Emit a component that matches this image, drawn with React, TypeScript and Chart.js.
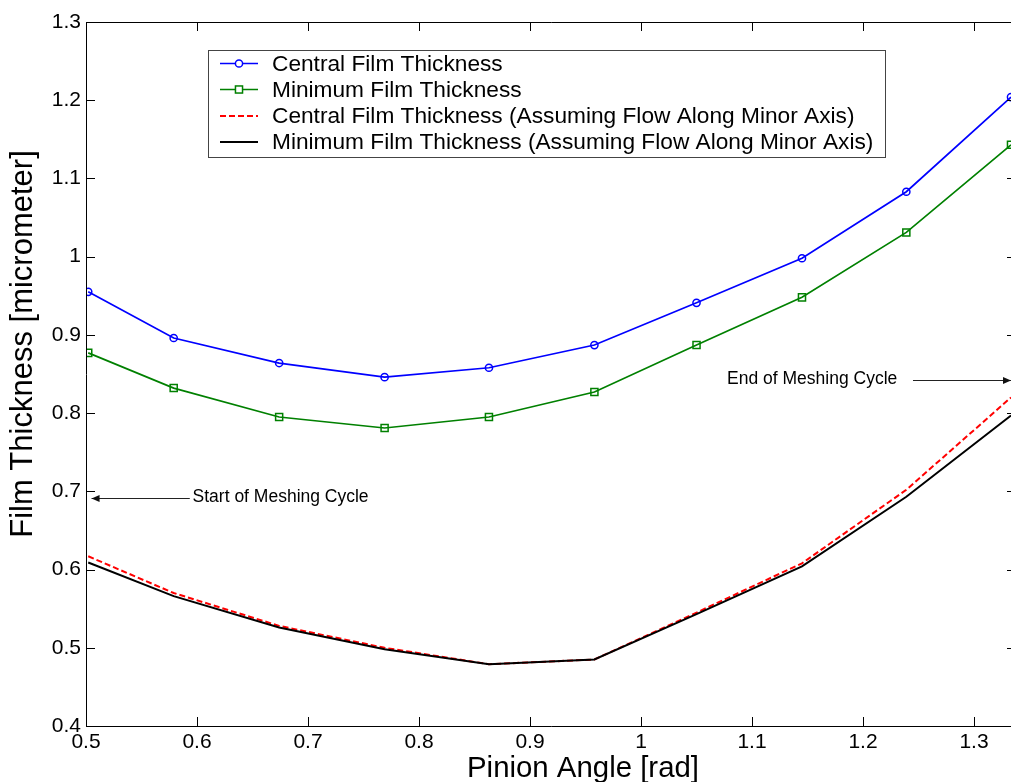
import React, { useEffect, useRef } from "react";
import { Chart, registerables } from "chart.js";

Chart.register(...registerables);

// ---- data ----
const pinionAngle = [0.502, 0.579, 0.674, 0.769, 0.863, 0.958, 1.05, 1.145, 1.239, 1.3333];
const centralFilm = [0.955, 0.896, 0.864, 0.846, 0.858, 0.887, 0.941, 0.998, 1.083, 1.204];
const minimumFilm = [0.877, 0.832, 0.795, 0.781, 0.795, 0.827, 0.887, 0.948, 1.031, 1.143];
const centralMinorAxis = [0.617, 0.57, 0.528, 0.5, 0.479, 0.485, 0.545, 0.608, 0.702, 0.82];
const minimumMinorAxis = [0.609, 0.566, 0.526, 0.498, 0.479, 0.485, 0.543, 0.604, 0.693, 0.797];

const seriesLabels = [
  "Central Film Thickness",
  "Minimum Film Thickness",
  "Central Film Thickness (Assuming Flow Along Minor Axis)",
  "Minimum Film Thickness (Assuming Flow Along Minor Axis)",
];

const xTickValues = [0.5, 0.6, 0.7, 0.8, 0.9, 1.0, 1.1, 1.2, 1.3];
const yTickValues = [0.4, 0.5, 0.6, 0.7, 0.8, 0.9, 1.0, 1.1, 1.2, 1.3];
const xRange = [0.5, 1.3378];
const yRange = [0.4, 1.3];

const xTitle = "Pinion Angle [rad]";
const yTitle = "Film Thickness [micrometer]";

// annotations in data coordinates
const startNote = { text: "Start of Meshing Cycle", tipX: 0.505, tailX: 0.5935, textX: 0.596, y: 0.6915 };
const endNote = { text: "End of Meshing Cycle", tipX: 1.3333, tailX: 1.245, textX: 1.0775, y: 0.8425 };

const FONT = "'Liberation Sans', Arial, Helvetica, sans-serif";
const VIEW_W = 1011;
const CANVAS_W = 1017;
const CANVAS_H = 782;

const fmt = (v: number) => String(Number(Number(v).toFixed(1)));

const framePlugin = {
  id: "matlabFrame",
  afterDraw(chart: any) {
    const { ctx, chartArea } = chart;
    const { left, right, top, bottom } = chartArea;
    const xs = chart.scales.x;
    const ys = chart.scales.y;
    ctx.save();
    // frame
    ctx.strokeStyle = "#000";
    ctx.lineWidth = 1;
    ctx.beginPath();
    ctx.moveTo(right, top + 0.5);
    ctx.lineTo(left + 0.5, top + 0.5);
    ctx.lineTo(left + 0.5, bottom + 0.5);
    ctx.lineTo(right, bottom + 0.5);
    ctx.lineTo(right - 0.5, top + 0.5);
    ctx.stroke();
    // inward ticks
    const tl = 9;
    ctx.beginPath();
    xTickValues.forEach((v) => {
      const px = Math.round(xs.getPixelForValue(v)) + 0.5;
      ctx.moveTo(px, bottom);
      ctx.lineTo(px, bottom - tl);
      ctx.moveTo(px, top);
      ctx.lineTo(px, top + tl);
    });
    yTickValues.forEach((v) => {
      const py = Math.round(ys.getPixelForValue(v)) + 0.5;
      ctx.moveTo(left, py);
      ctx.lineTo(left + tl, py);
      ctx.moveTo(right, py);
      ctx.lineTo(right - tl, py);
    });
    ctx.stroke();

    // axis titles
    ctx.fillStyle = "#000";
    ctx.textAlign = "center";
    ctx.textBaseline = "alphabetic";
    ctx.font = `29.4px ${FONT}`;
    ctx.fillText(xTitle, 583, 777);
    ctx.save();
    ctx.translate(32, 344);
    ctx.rotate(-Math.PI / 2);
    ctx.font = `31px ${FONT}`;
    ctx.fillText(yTitle, 0, 0);
    ctx.restore();

    // legend
    const lx = 208.5, ly = 50.5, lw = 677, lh = 107;
    ctx.fillStyle = "#fff";
    ctx.fillRect(lx, ly, lw, lh);
    ctx.strokeStyle = "#444";
    ctx.lineWidth = 1;
    ctx.strokeRect(lx, ly, lw, lh);
    const rows = [63.5, 89.5, 116, 142];
    chart.data.datasets.forEach((ds: any, i: number) => {
      const y = rows[i];
      ctx.save();
      ctx.strokeStyle = ds.borderColor;
      ctx.lineWidth = ds.borderWidth;
      ctx.setLineDash(ds.borderDash || []);
      ctx.beginPath();
      ctx.moveTo(220, y);
      ctx.lineTo(258, y);
      ctx.stroke();
      ctx.setLineDash([]);
      if (ds.pointRadius > 0) {
        ctx.lineWidth = ds.pointBorderWidth;
        ctx.fillStyle = "#fff";
        if (ds.pointStyle === "rect") {
          const s = ds.pointRadius * Math.SQRT1_2;
          ctx.fillRect(239 - s, y - s, 2 * s, 2 * s);
          ctx.strokeRect(239 - s, y - s, 2 * s, 2 * s);
        } else {
          ctx.beginPath();
          ctx.arc(239, y, ds.pointRadius, 0, Math.PI * 2);
          ctx.fill();
          ctx.stroke();
        }
      }
      ctx.fillStyle = "#000";
      ctx.font = `22.7px ${FONT}`;
      ctx.textAlign = "left";
      ctx.textBaseline = "middle";
      ctx.fillText(ds.label, 272, y + 1);
      ctx.restore();
    });

    // annotations
    const drawNote = (n: any, dir: number) => {
      const yy = Math.round(ys.getPixelForValue(n.y)) + 0.5;
      const tip = xs.getPixelForValue(n.tipX);
      const tail = xs.getPixelForValue(n.tailX);
      ctx.strokeStyle = "#222";
      ctx.fillStyle = "#111";
      ctx.lineWidth = 1;
      ctx.beginPath();
      ctx.moveTo(tail, yy);
      ctx.lineTo(tip, yy);
      ctx.stroke();
      ctx.beginPath();
      ctx.moveTo(tip, yy);
      ctx.lineTo(tip - dir * 8, yy - 3.5);
      ctx.lineTo(tip - dir * 8, yy + 3.5);
      ctx.closePath();
      ctx.fill();
      ctx.font = `17.5px ${FONT}`;
      ctx.textAlign = "left";
      ctx.textBaseline = "middle";
      ctx.fillStyle = "#000";
      ctx.fillText(n.text, xs.getPixelForValue(n.textX), yy - 1);
    };
    drawNote(startNote, -1);
    drawNote(endNote, 1);
    ctx.restore();
  },
};

export default function App() {
  const canvasRef = useRef<HTMLCanvasElement | null>(null);

  useEffect(() => {
    if (!canvasRef.current) return;
    const toPts = (arr: number[]) => arr.map((y, i) => ({ x: pinionAngle[i], y }));
    const chart = new Chart(canvasRef.current, {
      type: "line",
      data: {
        datasets: [
          {
            label: seriesLabels[0],
            data: toPts(centralFilm),
            borderColor: "#0000ff",
            backgroundColor: "rgba(0,0,0,0)",
            borderWidth: 1.7,
            pointStyle: "circle",
            pointRadius: 3.6,
            pointBorderWidth: 1.5,
            pointBackgroundColor: "rgba(0,0,0,0)",
            pointBorderColor: "#0000ff",
            order: 3,
          } as any,
          {
            label: seriesLabels[1],
            data: toPts(minimumFilm),
            borderColor: "#008000",
            backgroundColor: "rgba(0,0,0,0)",
            borderWidth: 1.7,
            pointStyle: "rect",
            pointRadius: 5,
            pointBorderWidth: 1.5,
            pointBackgroundColor: "rgba(0,0,0,0)",
            pointBorderColor: "#008000",
            order: 2,
          } as any,
          {
            label: seriesLabels[2],
            data: toPts(centralMinorAxis),
            borderColor: "#ff0000",
            backgroundColor: "rgba(0,0,0,0)",
            borderWidth: 2,
            borderDash: [6, 3],
            pointRadius: 0,
            pointBorderWidth: 0,
            order: 1,
          } as any,
          {
            label: seriesLabels[3],
            data: toPts(minimumMinorAxis),
            borderColor: "#000000",
            backgroundColor: "rgba(0,0,0,0)",
            borderWidth: 2,
            pointRadius: 0,
            pointBorderWidth: 0,
            order: 0,
          } as any,
        ],
      },
      options: {
        responsive: false,
        animation: false,
        devicePixelRatio: 1,
        layout: { autoPadding: false, padding: { top: 22, left: 0, right: 1, bottom: 0 } },
        plugins: {
          legend: { display: false },
          tooltip: { enabled: false },
          title: { display: false },
        },
        elements: { line: { tension: 0 } },
        scales: {
          x: {
            type: "linear",
            min: xRange[0],
            max: xRange[1],
            grid: { display: false, drawTicks: false },
            border: { display: false },
            afterBuildTicks: (s: any) => {
              s.ticks = xTickValues.map((v) => ({ value: v }));
            },
            afterFit: (s: any) => {
              s.height = 56;
            },
            ticks: {
              color: "#000",
              padding: 4,
              maxRotation: 0,
              autoSkip: false,
              font: { family: FONT, size: 21 },
              callback: (v: any) => fmt(v),
            },
          },
          y: {
            type: "linear",
            min: yRange[0],
            max: yRange[1],
            grid: { display: false, drawTicks: false },
            border: { display: false },
            afterBuildTicks: (s: any) => {
              s.ticks = yTickValues.map((v) => ({ value: v }));
            },
            afterFit: (s: any) => {
              s.width = 86;
            },
            ticks: {
              color: "#000",
              padding: 5,
              autoSkip: false,
              font: { family: FONT, size: 21 },
              callback: (v: any) => fmt(v),
            },
          },
        },
      },
      plugins: [framePlugin],
    });
    return () => chart.destroy();
  }, []);

  return (
    <div
      style={{
        position: "fixed",
        left: 0,
        top: 0,
        width: VIEW_W,
        height: CANVAS_H,
        overflow: "hidden",
        background: "#fff",
      }}
    >
      <div style={{ position: "absolute", left: 0, top: 0, width: CANVAS_W, height: CANVAS_H }}>
        <canvas
          ref={canvasRef}
          width={CANVAS_W}
          height={CANVAS_H}
          style={{ width: CANVAS_W, height: CANVAS_H, display: "block" }}
        />
      </div>
    </div>
  );
}
